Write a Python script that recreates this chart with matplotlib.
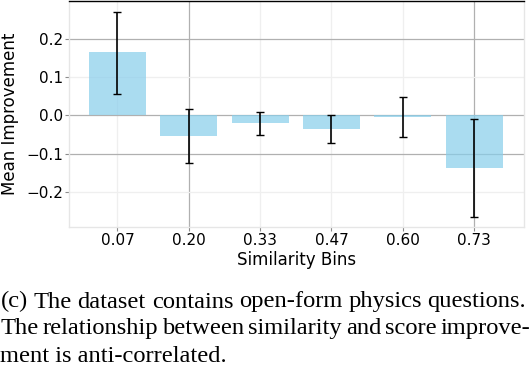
import matplotlib
matplotlib.use("Agg")
import matplotlib.pyplot as plt
import numpy as np

# ---- data ----
bins = ["0.07", "0.20", "0.33", "0.47", "0.60", "0.73"]
mean_improvement = [0.164, -0.054, -0.020, -0.036, -0.005, -0.137]
err_low = [0.109, 0.071, 0.030, 0.037, 0.052, 0.128]
err_high = [0.106, 0.070, 0.029, 0.036, 0.052, 0.128]
yticks = [-0.2, -0.1, 0.0, 0.1, 0.2]
caption_lines = [
    "(c) The dataset contains open-form physics questions.",
    "The relationship between similarity and score improve-",
    "ment is anti-correlated.",
]

W, H = 532, 366
DPI = 100
fig = plt.figure(figsize=(W / DPI, H / DPI), dpi=DPI)
ax = fig.add_axes([69 / W, 1 - 227 / H, (524 - 69) / W, (227 - 1) / H])

x = np.arange(len(bins))
ax.bar(x, mean_improvement, width=0.8, color="skyblue", alpha=0.7, zorder=2)
ax.errorbar(x, mean_improvement, yerr=[err_low, err_high], fmt="none",
            ecolor="black", elinewidth=1.2, capsize=2.6, capthick=1.0, zorder=3)

ax.set_xticks(x)
ax.set_xticklabels(bins)
ax.set_yticks(yticks)
ax.set_xlim(-0.68, 5.70)
ax.set_ylim(-0.291, 0.298)
ax.tick_params(axis="both", length=3, width=0.8, color="#8c8c8c", pad=1.3, labelsize=11)
ax.set_xlabel("Similarity Bins", fontsize=12, labelpad=2)
ax.set_ylabel("Mean Improvement", fontsize=12, labelpad=5)

ax.set_axisbelow(True)
ax.grid(True, color="#b0b0b0", linewidth=0.9)
dark_y = {-0.1, 0.0, 0.2}
for val, gl in zip(yticks, ax.get_ygridlines()):
    if round(val, 1) not in dark_y:
        gl.set_color("#efefef")
dark_x = {1, 5}
for i, gl in enumerate(ax.get_xgridlines()):
    if i not in dark_x:
        gl.set_color("#efefef")

for s in ["left", "right", "bottom"]:
    ax.spines[s].set_color("#e6e6e6")
    ax.spines[s].set_linewidth(1.0)
ax.spines["top"].set_color("black")
ax.spines["top"].set_linewidth(1.0)

# ---- caption (justified serif text) ----
renderer = fig.canvas.get_renderer()
probe = fig.text(0, 0, caption_lines[2], family="Liberation Serif", fontsize=10)
w10 = probe.get_window_extent(renderer).width
probe.remove()
cap_size = 10 * 226.5 / w10
cap_font = dict(family="Liberation Serif", fontsize=cap_size, color="black")
baselines = [307.5, 334, 362]
targets = [(0.5, 526), (0.5, 530.5), None]

def place_line(text, y_px, target):
    if target is None:
        fig.text(0.5 / W, 1 - y_px / H, text, ha="left", va="baseline", **cap_font)
        return
    words = text.split(" ")
    objs = [fig.text(0, 1 - y_px / H, w, ha="left", va="baseline", **cap_font) for w in words]
    widths = [o.get_window_extent(renderer).width for o in objs]
    x0, x1 = target
    gap = (x1 - x0 - sum(widths)) / (len(words) - 1)
    cur = x0
    for o, wd in zip(objs, widths):
        o.set_x(cur / W)
        cur += wd + gap

for line, yb, tg in zip(caption_lines, baselines, targets):
    place_line(line, yb, tg)

fig.savefig("out.png", dpi=DPI)
